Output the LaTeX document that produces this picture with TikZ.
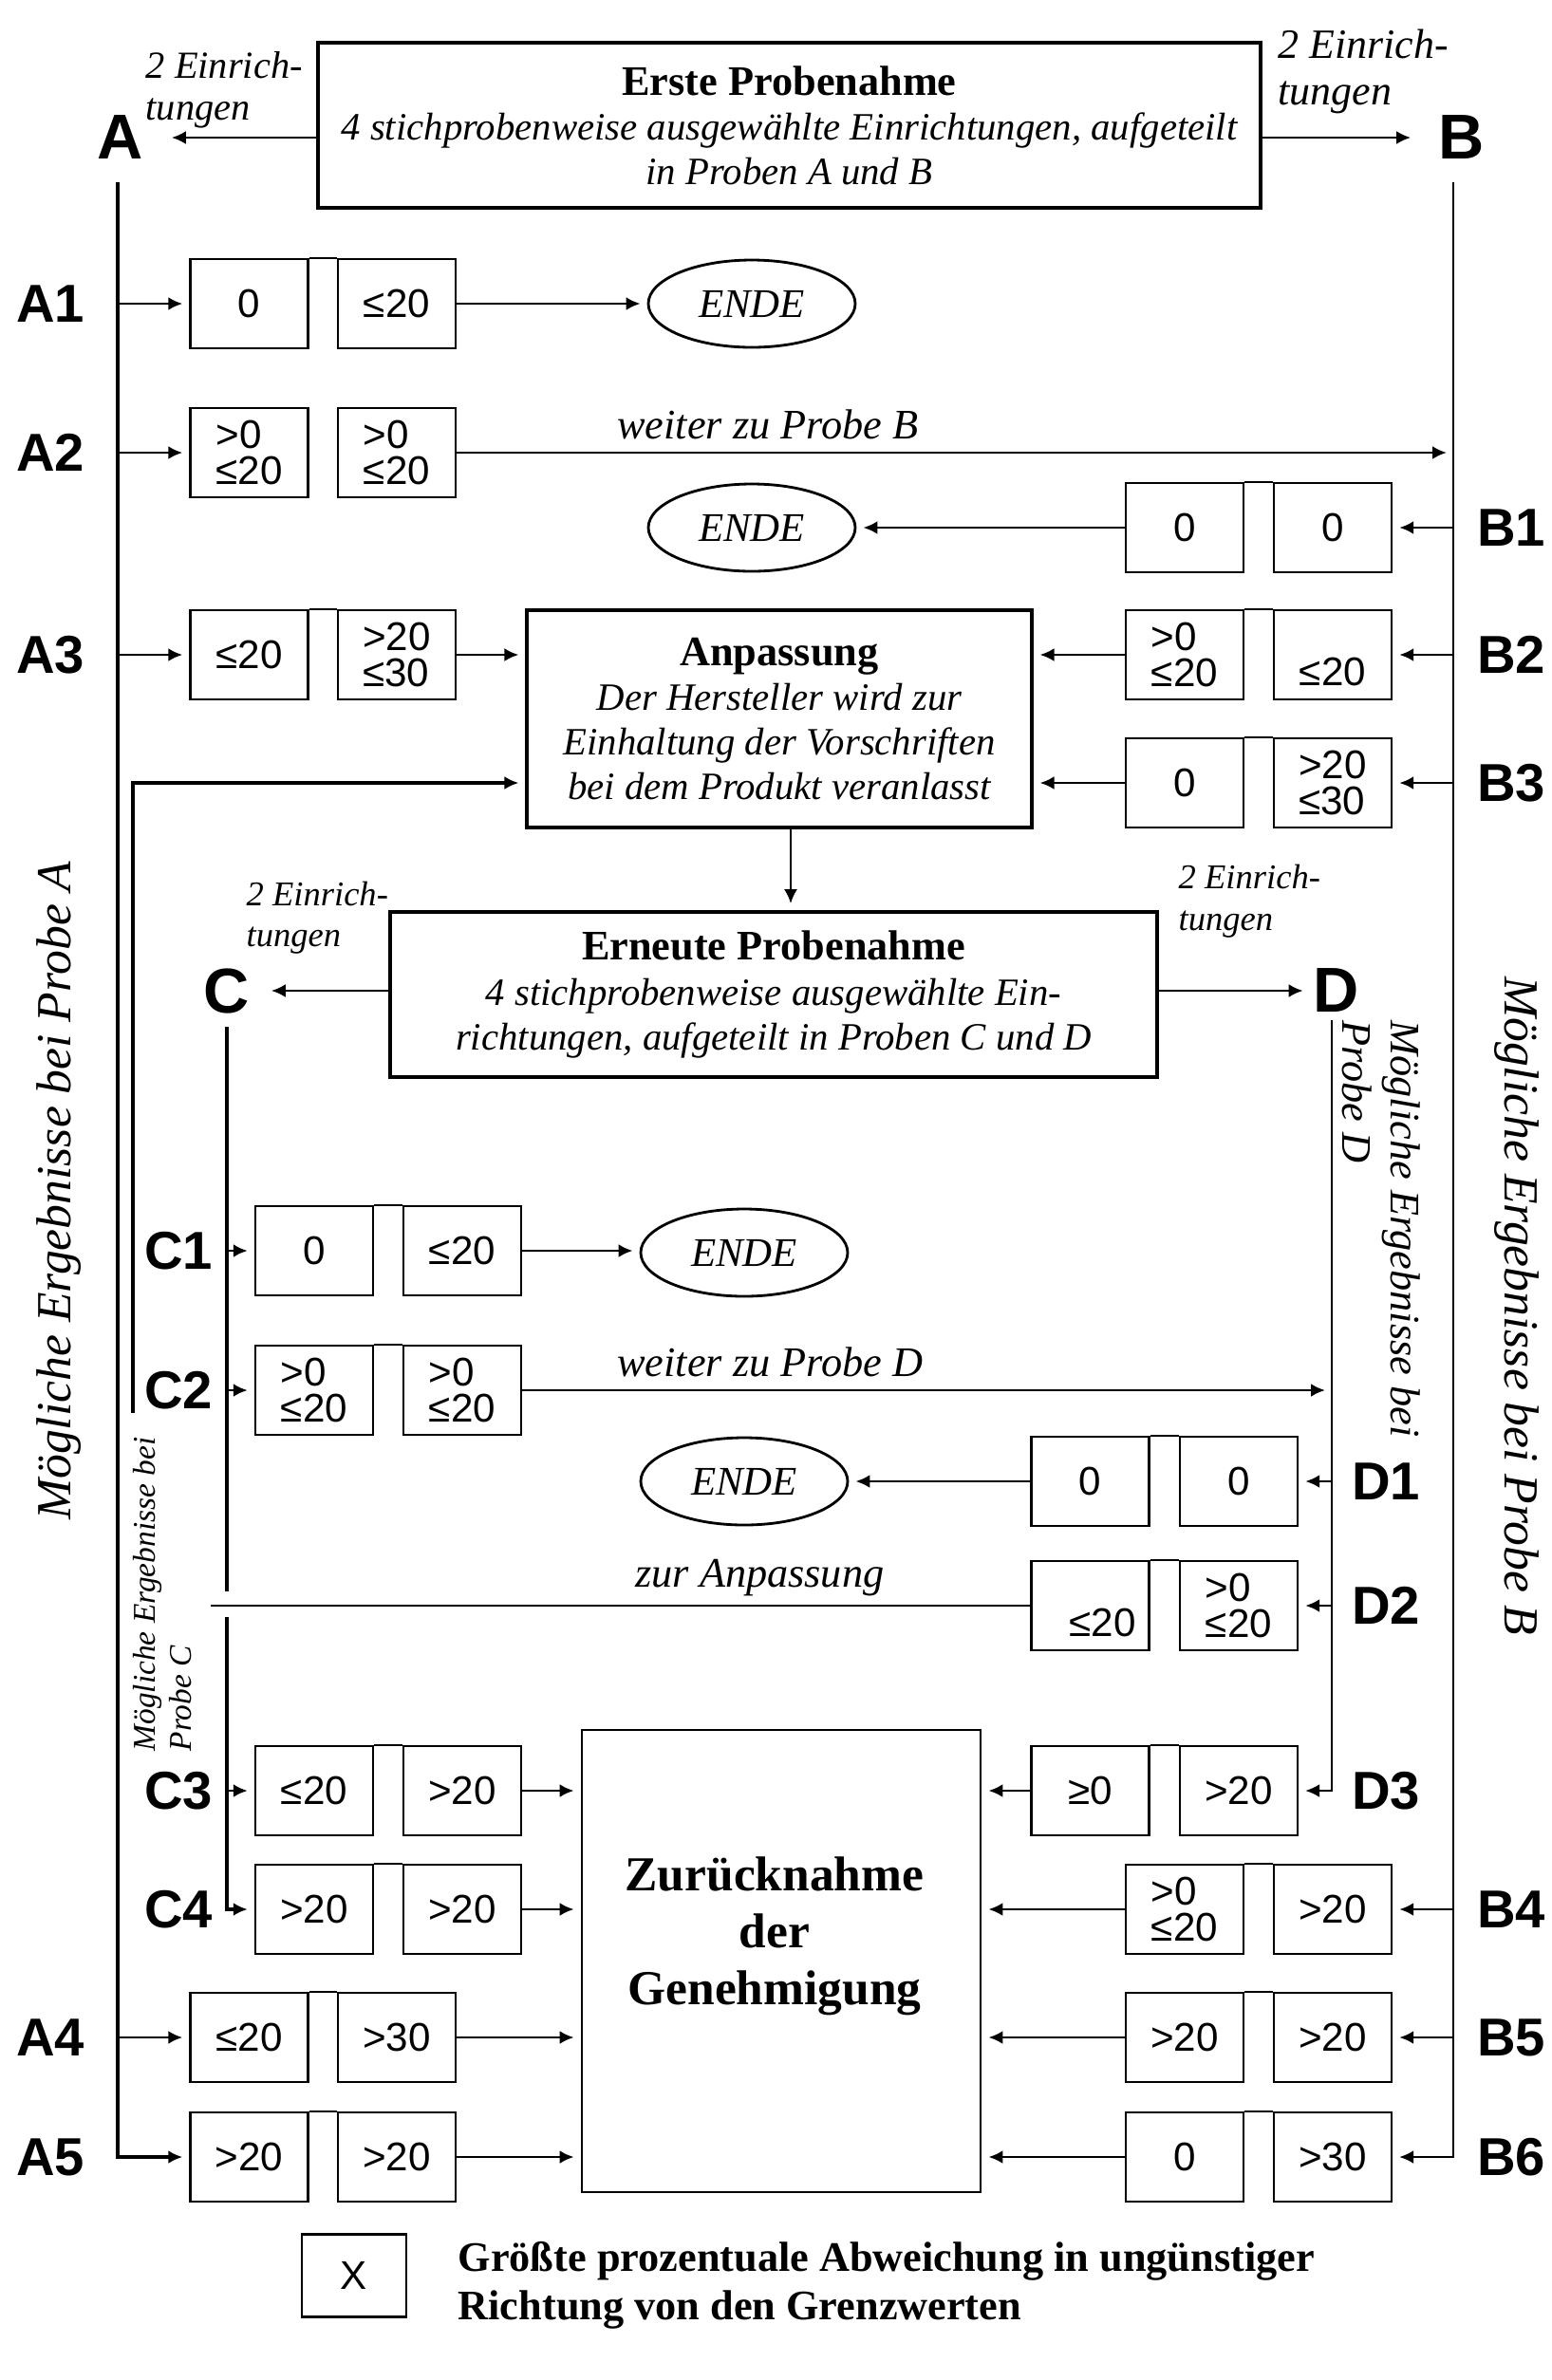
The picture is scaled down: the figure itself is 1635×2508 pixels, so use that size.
\documentclass[tikz,border=0pt]{standalone}
\usepackage{fontspec}
\setmainfont{Liberation Serif}
\setsansfont{Liberation Sans}
\usetikzlibrary{arrows.meta,shapes.geometric,calc}

\newcommand\valfont{\sffamily\fontsize{12pt}{10.8pt}\selectfont}
\newcommand\rowfont{\sffamily\bfseries\fontsize{16pt}{16pt}\selectfont}
\newcommand\bigfont{\sffamily\bfseries\fontsize{19pt}{19pt}\selectfont}
\newcommand\itfont{\itshape\fontsize{11.6pt}{13.4pt}\selectfont}
\newcommand\ttlfont{\upshape\bfseries\fontsize{12.6pt}{13.4pt}\selectfont}
\newcommand\lblfont{\itshape\fontsize{12.6pt}{14pt}\selectfont}

\begin{document}
\begin{tikzpicture}[x=0.1mm,y=-0.1mm,
  val/.style={draw, line width=0.7pt, minimum width=12.4mm, minimum height=9.4mm, inner sep=0.4mm, font=\valfont, align=left},
  low/.style={text height=6.4mm, text depth=0mm},
  rowlab/.style={font=\rowfont, inner sep=0},
  biglab/.style={font=\bigfont},
  arr/.style={-{Latex[length=1.5mm,width=1.4mm]}, line width=0.8pt, shorten >=0.7mm},
  plain/.style={line width=0.8pt},
  joinline/.style={line width=0.7pt},
  ende/.style={ellipse, draw, line width=0.8pt, minimum width=21.8mm, minimum height=9.2mm, inner sep=0, font=\itshape\fontsize{12.2pt}{14pt}\selectfont},
  mainbox/.style={draw, line width=1.1pt, align=center, font=\itfont, inner sep=0},
  einr/.style={anchor=west, align=left, inner sep=0},
]
\fill[white] (0,0) rectangle (1635,2508);
\useasboundingbox (0,0) rectangle (1635,2508);

% ---------- top box ----------
\node[mainbox, minimum width=99.3mm, minimum height=17.4mm] (Top) at (831.5,132)
  {{\ttlfont Erste Probenahme}\\4 stichprobenweise ausgewählte Einrichtungen, aufgeteilt\\in Proben A und B};
\node[biglab, inner sep=2.2mm] (A) at (127,145) {A};
\node[biglab, inner sep=2.2mm] (B) at (1540,145) {B};
\draw[arr] (Top.west |- A.east) -- (A.east);
\draw[arr] (Top.east |- B.west) -- (B.west);
\node[einr, font=\itshape\fontsize{11.5pt}{12.5pt}\selectfont] (nA) at (153,95) {2 Einrich-\\tungen};
\node[einr, font=\itshape\fontsize{12.5pt}{13.9pt}\selectfont] (nB) at (1346,75) {2 Einrich-\\tungen};

\coordinate (Atop) at (124,192);
\coordinate (Btop) at (1531,192);

% ---------- rows A / B ----------
\node[val] (A1a) at (262.5,320) {0};
\node[val] (A1b) at (418,320) {≤20};
\node[ende] (E1) at (792,320) {ENDE};

\node[val] (A2a) at (262.5,477) {>0\\≤20};
\node[val] (A2b) at (418,477) {>0\\≤20};

\node[val] (B1a) at (1248,556) {0};
\node[val] (B1b) at (1404,556) {0};
\node[ende] (E2) at (792,556) {ENDE};

\node[val] (A3a) at (262.5,690) {≤20};
\node[val] (A3b) at (418,690) {>20\\≤30};
\node[val] (B2a) at (1248,690) {>0\\≤20};
\node[val, low] (B2b) at (1404,690) {≤20};

\node[val] (B3a) at (1248,825) {0};
\node[val] (B3b) at (1404,825) {>20\\≤30};

\node[mainbox, line width=0.9pt, minimum width=53.2mm, minimum height=22.9mm] (Anp) at (821,757.5)
  {{\ttlfont Anpassung}\\Der Hersteller wird zur\\Einhaltung der Vorschriften\\bei dem Produkt veranlasst};

% ---------- second sampling ----------
\node[mainbox, minimum width=80.8mm, minimum height=17.4mm] (Ern) at (815,1048)
  {{\ttlfont Erneute Probenahme}\\4 stichprobenweise ausgewählte Ein-\\richtungen, aufgeteilt in Proben C und D};
\node[biglab, inner sep=1.5mm] (C) at (239,1044) {C};
\node[biglab, inner sep=0.35mm] (D) at (1408,1044) {D};
\draw[arr] (Ern.west |- C.east) -- (C.east);
\draw[arr] (Ern.east |- D.west) -- (D.west);
\node[einr, font=\itshape\fontsize{10.4pt}{12.2pt}\selectfont] (nC) at (259,967) {2 Einrich-\\tungen};
\node[einr, font=\itshape\fontsize{10.4pt}{12.5pt}\selectfont] (nD) at (1241,950) {2 Einrich-\\tungen};

\coordinate (Ctop) at (239,1082);
\coordinate (Cg1) at (239,1677);
\coordinate (Cg2) at (239,1704);
\coordinate (Dtop) at (1403,1075);
\coordinate (Lbot) at (140,1489);
\coordinate (ZA) at (222,1692);

\node[val] (C1a) at (331,1318) {0};
\node[val] (C1b) at (487,1318) {≤20};
\node[ende] (E3) at (784,1320) {ENDE};

\node[val] (C2a) at (331,1465) {>0\\≤20};
\node[val] (C2b) at (487,1465) {>0\\≤20};

\node[val] (D1a) at (1148.5,1561) {0};
\node[val] (D1b) at (1305,1561) {0};
\node[ende] (E4) at (784,1561) {ENDE};

\node[val, low, text width=9.6mm, align=right] (D2a) at (1148.5,1692) {≤20};
\node[val] (D2b) at (1305,1692) {>0\\≤20};

\node[val] (C3a) at (331,1887) {≤20};
\node[val] (C3b) at (487,1887) {>20};
\node[val] (D3a) at (1148.5,1887) {≥0};
\node[val] (D3b) at (1305,1887) {>20};

\node[val] (C4a) at (331,2012) {>20};
\node[val] (C4b) at (487,2012) {>20};
\node[val] (B4a) at (1248,2012) {>0\\≤20};
\node[val] (B4b) at (1404,2012) {>20};

\node[val] (A4a) at (262.5,2147) {≤20};
\node[val] (A4b) at (418,2147) {>30};
\node[val] (B5a) at (1248,2147) {>20};
\node[val] (B5b) at (1404,2147) {>20};

\node[val] (A5a) at (262.5,2273) {>20};
\node[val] (A5b) at (418,2273) {>20};
\node[val] (B6a) at (1248,2273) {0};
\node[val] (B6b) at (1404,2273) {>30};

\node[draw, line width=0.8pt, minimum width=42mm, minimum height=48.7mm] (Z) at (823,2066.5) {};
\node[font=\bfseries\fontsize{14.65pt}{17.1pt}\selectfont, align=center] (Zt) at (816,2040) {Zurücknahme\\der\\Genehmigung};

% ---------- row labels ----------
\node[rowlab] (LA1) at (53,320) {A1};
\node[rowlab] (LA2) at (53,477) {A2};
\node[rowlab] (LA3) at (53,690) {A3};
\node[rowlab] (LA4) at (53,2147) {A4};
\node[rowlab] (LA5) at (53,2273) {A5};
\node[rowlab] (LB1) at (1592,556) {B1};
\node[rowlab] (LB2) at (1592,690) {B2};
\node[rowlab] (LB3) at (1592,825) {B3};
\node[rowlab] (LB4) at (1592,2012) {B4};
\node[rowlab] (LB5) at (1592,2147) {B5};
\node[rowlab] (LB6) at (1592,2273) {B6};
\node[rowlab] (LC1) at (188,1318) {C1};
\node[rowlab] (LC2) at (188,1465) {C2};
\node[rowlab] (LC3) at (188,1887) {C3};
\node[rowlab] (LC4) at (188,2012) {C4};
\node[rowlab] (LD1) at (1460,1561) {D1};
\node[rowlab] (LD2) at (1460,1692) {D2};
\node[rowlab] (LD3) at (1460,1887) {D3};

% ---------- joined top edges ----------
\foreach \p/\q in {A1a/A1b, A3a/A3b, A4a/A4b, A5a/A5b, B1a/B1b, B2a/B2b, B3a/B3b, B4a/B4b, B5a/B5b, B6a/B6b, C1a/C1b, C2a/C2b, C3a/C3b, C4a/C4b, D1a/D1b, D2a/D2b, D3a/D3b}
  \draw[joinline] (\p.north east) -- (\q.north west);

% ---------- trunk lines ----------
\draw[arr, line width=1pt] (Atop) |- (A5a.west);
\draw[arr] (Atop |- A1a.west) -- (A1a.west);
\draw[arr] (Atop |- A2a.west) -- (A2a.west);
\draw[arr] (Atop |- A3a.west) -- (A3a.west);
\draw[arr] (Atop |- A4a.west) -- (A4a.west);

\draw[arr, line width=0.6pt] (Btop) |- (B6b.east);
\draw[arr] (Btop |- B1b.east) -- (B1b.east);
\draw[arr] (Btop |- B2b.east) -- (B2b.east);
\draw[arr] (Btop |- B3b.east) -- (B3b.east);
\draw[arr] (Btop |- B4b.east) -- (B4b.east);
\draw[arr] (Btop |- B5b.east) -- (B5b.east);

\draw[line width=0.9pt] (Ctop) -- (Cg1);
\draw[arr, line width=0.9pt] (Cg2) |- (C4a.west);
\draw[arr] (Ctop |- C1a.west) -- (C1a.west);
\draw[arr] (Ctop |- C2a.west) -- (C2a.west);
\draw[arr] (Ctop |- C3a.west) -- (C3a.west);

\draw[arr, line width=0.6pt] (Dtop) |- (D3b.east);
\draw[arr] (Dtop |- D1b.east) -- (D1b.east);
\draw[arr] (Dtop |- D2b.east) -- (D2b.east);

% ---------- flows ----------
\draw[arr] (A1b.east) -- (E1.west);
\draw[arr] (B1a.west) -- (E2.east);
\draw[arr] (C1b.east) -- (C1b.east -| E3.west);
\draw[arr] (D1a.west) -- (E4.east);

\draw[arr] (A2b.east) -- node[pos=0.312, anchor=base, yshift=1.5mm, font=\lblfont] {weiter zu Probe B} (A2b.east -| Btop);
\draw[arr] (C2b.east) -- node[pos=0.306, anchor=base, yshift=1.5mm, font=\lblfont] {weiter zu Probe D} (C2b.east -| Dtop);
\draw[plain] (D2a.west) -- node[pos=0.33, anchor=base, yshift=2mm, font=\lblfont] {zur Anpassung} (ZA);

\draw[arr] (A3b.east) -- (A3b.east -| Anp.west);
\draw[arr] (B2a.west) -- (B2a.west -| Anp.east);
\draw[arr] (B3a.west) -- (B3a.west -| Anp.east);
\draw[arr, line width=0.9pt] (Lbot) |- (Anp.west |- B3a.west);
\draw[arr, line width=0.6pt] ([xshift=1.2mm]Anp.south) -- ([xshift=1.2mm]Anp.south |- Ern.north);

\draw[arr] (C3b.east) -- (C3b.east -| Z.west);
\draw[arr] (C4b.east) -- (C4b.east -| Z.west);
\draw[arr] (A4b.east) -- (A4b.east -| Z.west);
\draw[arr] (A5b.east) -- (A5b.east -| Z.west);
\draw[arr] (D3a.west) -- (D3a.west -| Z.east);
\draw[arr] (B4a.west) -- (B4a.west -| Z.east);
\draw[arr] (B5a.west) -- (B5a.west -| Z.east);
\draw[arr] (B6a.west) -- (B6a.west -| Z.east);

% ---------- rotated captions ----------
\node[rotate=90, font=\itshape\fontsize{14.7pt}{16pt}\selectfont] (RA) at (62,1255) {Mögliche Ergebnisse bei Probe A};
\node[rotate=-90, font=\itshape\fontsize{14.7pt}{16pt}\selectfont] (RB) at (1598,1376) {Mögliche Ergebnisse bei Probe B};
\node[rotate=-90, anchor=west, align=left, inner sep=0, font=\itshape\fontsize{12.6pt}{14.5pt}\selectfont] (RD) at (1455,1075) {Mögliche Ergebnisse bei\\Probe D};
\node[rotate=90, anchor=west, align=left, inner sep=0, font=\itshape\fontsize{9.5pt}{10.8pt}\selectfont] (RC) at (171,1846) {Mögliche Ergebnisse bei\\Probe C};

% ---------- legend ----------
\node[draw, line width=0.8pt, minimum width=11mm, minimum height=8.7mm, font=\sffamily\fontsize{12pt}{12pt}\selectfont] (Lg) at (373,2398) {X};
\node[anchor=west, align=left, inner sep=0, font=\bfseries\fontsize{12.6pt}{14.5pt}\selectfont] (Lt) at (482,2408) {Größte prozentuale Abweichung in ungünstiger\\Richtung von den Grenzwerten};
\end{tikzpicture}
\end{document}
